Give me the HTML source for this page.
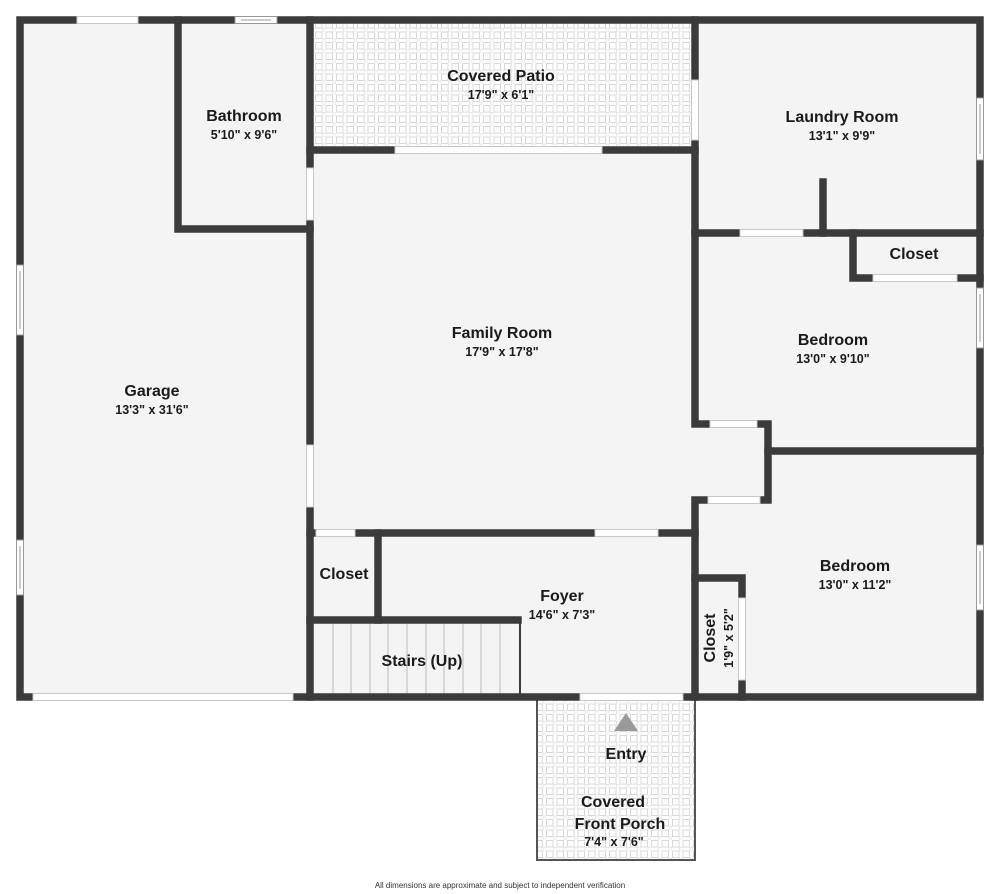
<!DOCTYPE html>
<html><head><meta charset="utf-8"><style>
html,body{margin:0;padding:0;background:#fff;}
svg{display:block;}
text{font-family:"Liberation Sans","DejaVu Sans",sans-serif;fill:#1a1a1a;text-anchor:middle;}
.n{font-size:16px;font-weight:bold;}
.d{font-size:12.5px;font-weight:bold;}
</style></head><body>
<svg width="1000" height="894" viewBox="0 0 1000 894" xmlns="http://www.w3.org/2000/svg">
<defs>
<pattern id="tile" width="10.5" height="10.5" patternUnits="userSpaceOnUse">
<rect width="10.5" height="10.5" fill="#fff"/>
<rect x="0.5" y="0.5" width="6.5" height="6.5" fill="none" stroke="#d8d8d8" stroke-width="1"/>
<rect x="7.5" y="7.5" width="3" height="3" fill="none" stroke="#e2e2e2" stroke-width="0.8"/>
</pattern>
</defs>
<rect x="20" y="20" width="960" height="677" fill="#f4f4f4"/>
<rect x="310" y="20" width="385" height="130" fill="url(#tile)"/>
<rect x="537" y="697" width="158" height="163" fill="url(#tile)" stroke="#555" stroke-width="2"/>
<polygon points="614,731 638,731 626,713" fill="#9a9a9a"/>
<g stroke="#bbb" stroke-width="1">
<line x1="333" y1="620" x2="333" y2="694"/><line x1="351" y1="620" x2="351" y2="694"/>
<line x1="370" y1="620" x2="370" y2="694"/><line x1="388" y1="620" x2="388" y2="694"/>
<line x1="407" y1="620" x2="407" y2="694"/><line x1="426" y1="620" x2="426" y2="694"/>
<line x1="444" y1="620" x2="444" y2="694"/><line x1="463" y1="620" x2="463" y2="694"/>
<line x1="481" y1="620" x2="481" y2="694"/><line x1="500" y1="620" x2="500" y2="694"/>
</g>
<g stroke="#3b3b3b" stroke-width="7.5" stroke-linecap="square" fill="none">
<path d="M20 20 H980 V697 H20 Z"/>
<path d="M310 20 V697"/>
<path d="M178 20 V229 H310"/>
<path d="M310 150 H695"/>
<path d="M695 20 V424 H768 V500 H695 V697"/>
<path d="M768 451 H980"/>
<path d="M695 233 H980"/>
<path d="M823 182 V233"/>
<path d="M853 233 V278 H980"/>
<path d="M310 533 H695"/>
<path d="M378 533 V620"/>
<path d="M310 620 H518"/>
<path d="M695 578 H742 V697"/>
</g>
<line x1="520" y1="620" x2="520" y2="697" stroke="#3b3b3b" stroke-width="2"/>
<g fill="#fff" stroke="#c8c8c8" stroke-width="1">
<rect x="77" y="16.5" width="61" height="7"/>
<rect x="395" y="146.5" width="207" height="7"/>
<rect x="306.5" y="168" width="7" height="52"/>
<rect x="306.5" y="445" width="7" height="62"/>
<rect x="691.5" y="80" width="7" height="60"/>
<rect x="740" y="229.5" width="63" height="7"/>
<rect x="873" y="274.5" width="84" height="7"/>
<rect x="710" y="420.5" width="47" height="7"/>
<rect x="708" y="496.5" width="52" height="7"/>
<rect x="316" y="529.5" width="39" height="7"/>
<rect x="595" y="529.5" width="63" height="7"/>
<rect x="738.5" y="598" width="7" height="82"/>
<rect x="580" y="693.5" width="103" height="7"/>
<rect x="33" y="693.5" width="260" height="7"/>
</g>
<g fill="#fff" stroke="#999" stroke-width="1">
<rect x="235" y="16.5" width="42" height="7"/><line x1="241" y1="20" x2="271" y2="20"/>
<rect x="16.5" y="265" width="7" height="70"/><line x1="20" y1="271" x2="20" y2="329"/>
<rect x="16.5" y="540" width="7" height="55"/><line x1="20" y1="546" x2="20" y2="589"/>
<rect x="976.5" y="98" width="7" height="62"/><line x1="980" y1="104" x2="980" y2="154"/>
<rect x="976.5" y="288" width="7" height="60"/><line x1="980" y1="294" x2="980" y2="342"/>
<rect x="976.5" y="545" width="7" height="65"/><line x1="980" y1="551" x2="980" y2="604"/>
</g>
<text class="n" x="501" y="81">Covered Patio</text><text class="d" x="501" y="99">17'9" x 6'1"</text>
<text class="n" x="244" y="121">Bathroom</text><text class="d" x="244" y="139">5'10" x 9'6"</text>
<text class="n" x="842" y="122">Laundry Room</text><text class="d" x="842" y="140">13'1" x 9'9"</text>
<text class="n" x="914" y="259">Closet</text>
<text class="n" x="833" y="345">Bedroom</text><text class="d" x="833" y="363">13'0" x 9'10"</text>
<text class="n" x="502" y="338">Family Room</text><text class="d" x="502" y="356">17'9" x 17'8"</text>
<text class="n" x="152" y="396">Garage</text><text class="d" x="152" y="414">13'3" x 31'6"</text>
<text class="n" x="855" y="571">Bedroom</text><text class="d" x="855" y="589">13'0" x 11'2"</text>
<text class="n" x="344" y="579">Closet</text>
<text class="n" x="562" y="601">Foyer</text><text class="d" x="562" y="619">14'6" x 7'3"</text>
<text class="n" x="422" y="666">Stairs (Up)</text>
<text class="n" transform="translate(715,638) rotate(-90)">Closet</text>
<text class="d" transform="translate(733,638) rotate(-90)">1'9" x 5'2"</text>
<text class="n" x="626" y="759">Entry</text>
<text class="n" x="613" y="807">Covered</text>
<text class="n" x="620" y="829">Front Porch</text>
<text class="d" x="614" y="846">7'4" x 7'6"</text>
<text x="500" y="888" style="font-size:8px;fill:#333">All dimensions are approximate and subject to independent verification</text>
</svg>
</body></html>
